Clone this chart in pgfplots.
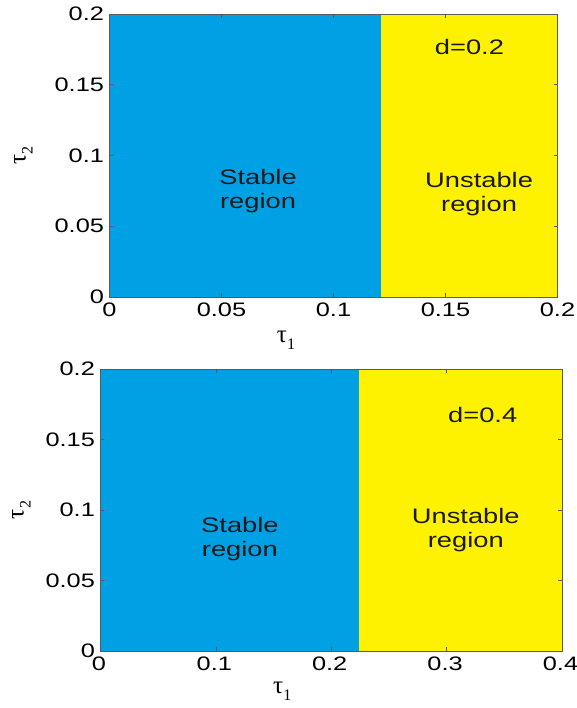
\documentclass[border=0pt]{standalone}
\usepackage{pgfplots}
\pgfplotsset{compat=1.18}
\usepackage{fontspec}
\setmainfont[FakeStretch=1.3]{Liberation Sans}
\newfontfamily\symfont{Liberation Serif}
\definecolor{stab}{RGB}{0,161,228}
\definecolor{unst}{RGB}{255,242,0}
\definecolor{axgray}{RGB}{90,90,90}
\newcommand{\taulab}[1]{{\fontsize{25}{25}\selectfont\symfont τ\raisebox{-7pt}{\fontsize{16}{16}\selectfont #1}}}
\pgfplotsset{
  regionaxis/.style={
    scale only axis,
    axis on top=true,
    anchor=south west,
    ymin=0, ymax=0.2,
    ytick={0,0.05,0.1,0.15,0.2},
    yticklabels={0,0.05,0.1,0.15,0.2},
    tick align=inside,
    major tick length=4pt,
    axis line style={axgray, line width=0.6pt},
    every tick/.style={axgray, line width=0.6pt},
    tick label style={font=\fontsize{19.5}{24}\selectfont, text=black},
    /pgf/number format/assume math mode=true,
    xlabel={\taulab{1}},
    ylabel={\taulab{2}},
    xticklabel style={yshift=-2pt},
    yticklabel style={xshift=-2pt},
    clip=true,
  }
}
\begin{document}
\begin{tikzpicture}
\useasboundingbox (0pt,0pt) rectangle (577pt,708pt);
% top axis
\begin{axis}[regionaxis,
  at={(109.5pt,411pt)}, width=448pt, height=283pt,
  xmin=0, xmax=0.2,
  xtick={0,0.05,0.1,0.15,0.2},
  xticklabels={0,0.05,0.1,0.15,0.2},
  xlabel style={at={(axis description cs:0.394,0)}, anchor=center, yshift=-43pt},
  ylabel style={at={(axis description cs:-0.192,0.5)}, anchor=center},
]
\addplot[fill=stab, draw=none] coordinates {(0,0.2) (0.1211,0.2)} \closedcycle;
\addplot[fill=unst, draw=none] coordinates {(0.1211,0.2) (0.2,0.2)} \closedcycle;
\node[font=\fontsize{21}{24}\selectfont, align=center, text=black!90] at (axis cs:0.0663,0.075) {Stable\\region};
\node[font=\fontsize{21}{24}\selectfont, align=center, text=black!90] at (axis cs:0.165,0.073) {Unstable\\region};
\node[font=\fontsize{21}{24}\selectfont, text=black!90] at (axis cs:0.1607,0.1769) {d=0.2};
\end{axis}
% bottom axis
\begin{axis}[regionaxis,
  at={(100.4pt,57pt)}, width=461.6pt, height=282pt,
  xmin=0, xmax=0.4,
  xtick={0,0.1,0.2,0.3,0.4},
  xticklabels={0,0.1,0.2,0.3,0.4},
  xticklabel style={xshift=-1.5pt},
  xlabel style={at={(axis description cs:0.394,0)}, anchor=center, yshift=-40pt},
  ylabel style={at={(axis description cs:-0.171,0.5)}, anchor=center},
]
\addplot[fill=stab, draw=none] coordinates {(0,0.2) (0.224,0.2)} \closedcycle;
\addplot[fill=unst, draw=none] coordinates {(0.224,0.2) (0.4,0.2)} \closedcycle;
\node[font=\fontsize{21}{24}\selectfont, align=center, text=black!90] at (axis cs:0.1209,0.0797) {Stable\\region};
\node[font=\fontsize{21}{24}\selectfont, align=center, text=black!90] at (axis cs:0.3166,0.0858) {Unstable\\region};
\node[font=\fontsize{21}{24}\selectfont, text=black!90] at (axis cs:0.3313,0.1676) {d=0.4};
\end{axis}
\end{tikzpicture}
\end{document}
